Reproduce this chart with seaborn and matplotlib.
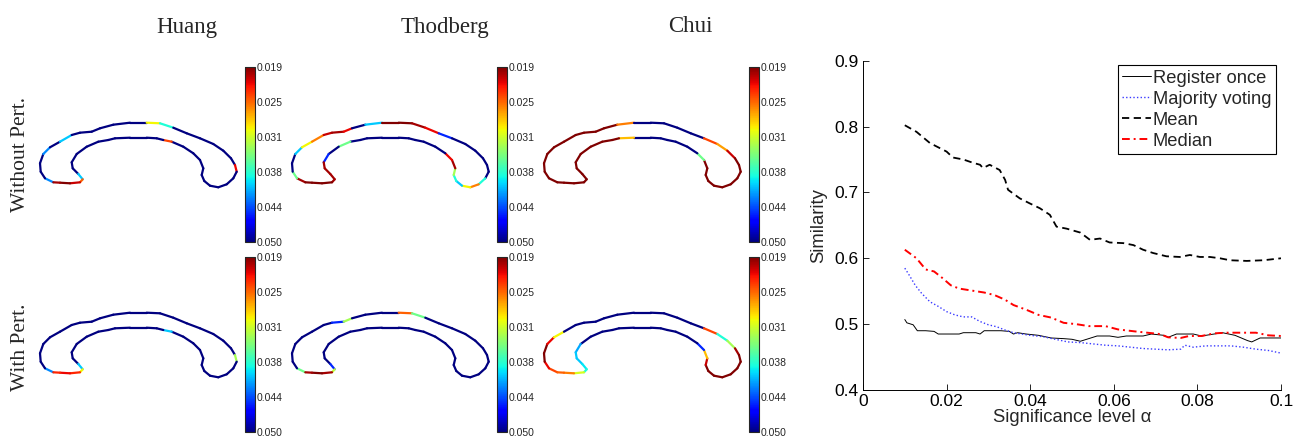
import numpy as np
import pandas as pd
import matplotlib
matplotlib.use("Agg")
import matplotlib.pyplot as plt
from matplotlib.collections import LineCollection
from matplotlib.colors import Normalize
from matplotlib.cm import ScalarMappable
import seaborn as sns

sns.set_style("ticks", {"xtick.direction": "in", "ytick.direction": "in"})
plt.rcParams["font.family"] = ["Liberation Sans", "DejaVu Sans"]

# ---- line chart data (similarity vs significance level) ----
reg_x = [0.010, 0.0105, 0.012, 0.013, 0.015, 0.017, 0.018, 0.020, 0.023, 0.024, 0.027, 0.028, 0.029, 0.031,
         0.033, 0.035, 0.036, 0.037, 0.039, 0.042, 0.045, 0.048, 0.050, 0.052, 0.054, 0.056, 0.059, 0.061,
         0.063, 0.067, 0.069, 0.072, 0.073, 0.075, 0.079, 0.081, 0.084, 0.086, 0.089, 0.092, 0.093, 0.095, 0.100]
reg_y = [0.507, 0.502, 0.499, 0.490, 0.490, 0.489, 0.485, 0.485, 0.485, 0.487, 0.487, 0.485, 0.490, 0.490,
         0.490, 0.489, 0.485, 0.487, 0.485, 0.483, 0.479, 0.478, 0.477, 0.474, 0.478, 0.482, 0.482, 0.480,
         0.482, 0.482, 0.485, 0.483, 0.480, 0.485, 0.485, 0.482, 0.485, 0.487, 0.483, 0.475, 0.473, 0.479, 0.479]

maj_x = [0.010, 0.011, 0.0125, 0.014, 0.016, 0.018, 0.020, 0.022, 0.024, 0.026, 0.028, 0.030, 0.032, 0.034,
         0.036, 0.038, 0.040, 0.043, 0.046, 0.049, 0.052, 0.055, 0.058, 0.061, 0.064, 0.067, 0.070, 0.073,
         0.076, 0.077, 0.079, 0.082, 0.085, 0.088, 0.091, 0.094, 0.097, 0.100]
maj_y = [0.585, 0.575, 0.559, 0.547, 0.534, 0.527, 0.519, 0.514, 0.511, 0.511, 0.504, 0.499, 0.496, 0.491,
         0.487, 0.485, 0.483, 0.481, 0.477, 0.473, 0.472, 0.470, 0.468, 0.467, 0.465, 0.463, 0.462, 0.461,
         0.462, 0.468, 0.465, 0.467, 0.467, 0.467, 0.465, 0.462, 0.460, 0.456]

mean_x = [0.010, 0.0128, 0.016, 0.020, 0.0215, 0.024, 0.0263, 0.0280, 0.0287, 0.0303, 0.0327, 0.034, 0.0347,
          0.0375, 0.040, 0.0423, 0.0447, 0.0463, 0.0487, 0.052, 0.0543, 0.0567, 0.059, 0.0623, 0.0647, 0.067,
          0.0694, 0.0726, 0.0758, 0.0782, 0.0806, 0.083, 0.0854, 0.0878, 0.0918, 0.0958, 0.100]
mean_y = [0.802, 0.792, 0.775, 0.762, 0.753, 0.750, 0.745, 0.742, 0.737, 0.742, 0.734, 0.719, 0.704,
          0.691, 0.683, 0.676, 0.666, 0.648, 0.645, 0.639, 0.628, 0.630, 0.624, 0.623, 0.620, 0.613,
          0.608, 0.603, 0.602, 0.605, 0.602, 0.602, 0.600, 0.597, 0.596, 0.597, 0.600]

med_x = [0.010, 0.0128, 0.015, 0.017, 0.019, 0.021, 0.023, 0.026, 0.029, 0.0315, 0.034, 0.036, 0.039, 0.042,
         0.045, 0.048, 0.051, 0.054, 0.058, 0.061, 0.065, 0.068, 0.071, 0.073, 0.076, 0.078, 0.081, 0.084,
         0.087, 0.090, 0.094, 0.097, 0.100]
med_y = [0.613, 0.600, 0.583, 0.580, 0.570, 0.559, 0.554, 0.551, 0.548, 0.544, 0.537, 0.529, 0.522, 0.514,
         0.510, 0.502, 0.500, 0.497, 0.497, 0.492, 0.489, 0.487, 0.485, 0.480, 0.479, 0.482, 0.482, 0.486,
         0.487, 0.487, 0.487, 0.483, 0.482]

# ---- shape panels: corpus callosum outline (pixel units) ----
outline_x = [13.3, 5.0, 0.7, 0.0, 3.3, 10.0, 20.0, 31.7, 40.0, 51.7, 60.0, 73.3, 90.0, 106.7, 120.0, 133.3,
             146.7, 160.0, 173.3, 183.3, 191.0, 195.0, 196.7, 193.3, 186.7, 178.3, 170.0, 164.3, 161.7, 163.3,
             160.0, 153.3, 143.3, 131.7, 123.3, 116.7, 106.7, 90.0, 75.0, 68.3, 58.3, 46.7, 36.7, 31.7, 32.7,
             38.3, 42.7, 40.0, 30.0, 20.0]
outline_y = [60.3, 56.3, 49.7, 41.3, 32.0, 25.3, 19.7, 13.0, 10.7, 9.7, 6.3, 2.7, 0.7, 0.7, 1.3, 5.7,
             11.3, 16.3, 22.0, 28.7, 36.3, 43.0, 49.7, 56.3, 62.3, 65.3, 63.7, 59.0, 53.0, 46.3,
             38.0, 31.3, 24.7, 19.7, 18.0, 16.3, 15.7, 15.7, 16.3, 18.0, 19.7, 24.7, 32.0, 40.3, 46.3,
             52.0, 57.3, 60.3, 61.3, 60.7]

# p-values per outline segment: base value plus overrides
huang_wo_base = 0.050
huang_wo_idx = [0, 4, 6, 13, 14, 21, 33, 45, 46, 47, 48, 49]
huang_wo_val = [0.042, 0.042, 0.040, 0.030, 0.038, 0.022, 0.024, 0.040, 0.025, 0.021, 0.019, 0.020]

thod_wo_base = 0.050
thod_wo_idx = [0, 1, 4, 5, 6, 7, 8, 9, 11, 12, 13, 14, 15, 16, 23, 24, 25, 26, 27, 28, 29, 30,
               40, 42, 43, 44, 45, 46, 47, 48, 49]
thod_wo_val = [0.020, 0.035, 0.040, 0.030, 0.026, 0.021, 0.020, 0.022, 0.040, 0.019, 0.019, 0.020, 0.022,
               0.045, 0.038, 0.026, 0.030, 0.040, 0.038, 0.033, 0.020, 0.022, 0.035, 0.045, 0.020, 0.020,
               0.020, 0.020, 0.019, 0.019, 0.019]

chui_wo_base = 0.019
chui_wo_idx = [11, 12, 13, 14, 15, 16, 17, 18, 19, 30, 31, 32, 33, 34, 35, 36, 37]
chui_wo_val = [0.026, 0.050, 0.050, 0.050, 0.050, 0.050, 0.024, 0.027, 0.021, 0.035, 0.050, 0.050, 0.050,
               0.050, 0.050, 0.050, 0.028]

huang_w_base = 0.050
huang_w_idx = [0, 21, 33, 45, 46, 47, 48, 49]
huang_w_val = [0.042, 0.033, 0.040, 0.040, 0.030, 0.023, 0.022, 0.023]

thod_w_base = 0.050
thod_w_idx = [0, 8, 9, 13, 14, 45, 46, 47, 48, 49]
thod_w_val = [0.035, 0.045, 0.033, 0.025, 0.035, 0.045, 0.032, 0.020, 0.019, 0.020]

chui_w_base = 0.050
chui_w_idx = [0, 1, 2, 3, 4, 5, 17, 18, 19, 20, 21, 22, 23, 24, 25, 26, 27, 28, 29, 30,
              42, 43, 44, 45, 46, 47, 48, 49]
chui_w_val = [0.024, 0.022, 0.019, 0.019, 0.022, 0.030, 0.024, 0.038, 0.033, 0.020, 0.019, 0.019, 0.019,
              0.019, 0.019, 0.019, 0.019, 0.021, 0.028, 0.045, 0.041, 0.040, 0.040, 0.039, 0.038, 0.031,
              0.026, 0.025]

methods = ["Huang", "Thodberg", "Chui"]
conditions = ["Without Pert.", "With Pert."]
cb_ticks = [0.019, 0.0252, 0.0314, 0.0376, 0.0438, 0.050]
cb_labels = ["0.019", "0.025", "0.031", "0.038", "0.044", "0.050"]

panels = [
    [(huang_wo_base, huang_wo_idx, huang_wo_val), (thod_wo_base, thod_wo_idx, thod_wo_val),
     (chui_wo_base, chui_wo_idx, chui_wo_val)],
    [(huang_w_base, huang_w_idx, huang_w_val), (thod_w_base, thod_w_idx, thod_w_val),
     (chui_w_base, chui_w_idx, chui_w_val)],
]

W, H = 1293, 437
fig = plt.figure(figsize=(W / 100, H / 100), dpi=100)


def box(left, top, width, height):
    return [left / W, 1 - (top + height) / H, width / W, height / H]


norm = Normalize(vmin=0.019, vmax=0.050)
cmap = plt.get_cmap("jet_r")
pts = np.column_stack([outline_x, outline_y])
segs = np.stack([pts, np.roll(pts, -1, axis=0)], axis=1)

col_left = [40, 292, 544]
cbar_left = [245, 497, 749]
row_top = [122, 312]
cbar_top = [67, 257]
pad = 4

for r in range(2):
    for c in range(3):
        base, idx, val = panels[r][c]
        pv = np.full(len(outline_x), base)
        pv[idx] = val
        ax = fig.add_axes(box(col_left[c] - pad, row_top[r] - pad, 196.7 + 2 * pad, 65.3 + 2 * pad))
        lc = LineCollection(segs, cmap=cmap, norm=norm, linewidths=1.6, capstyle="round")
        lc.set_array(pv)
        ax.add_collection(lc)
        ax.set_xlim(-pad, 196.7 + pad)
        ax.set_ylim(65.3 + pad, -pad)
        ax.axis("off")

        cax = fig.add_axes(box(cbar_left[c], cbar_top[r], 10, 175))
        cb = fig.colorbar(ScalarMappable(norm=norm, cmap=cmap), cax=cax, ticks=cb_ticks)
        cax.invert_yaxis()
        cb.ax.set_yticklabels(cb_labels)
        cb.outline.set_linewidth(0.8)
        cax.tick_params(direction="in", length=2, width=0.5, labelsize=7.5, pad=1,
                        left=True, right=True)

title_x = [187, 445, 690]
for c, name in enumerate(methods):
    fig.text(title_x[c] / W, 1 - 27 / H, name, ha="center", va="center",
             family="Liberation Serif", fontsize=16.5)

label_y = [154, 347]
for r, name in enumerate(conditions):
    fig.text(21 / W, 1 - label_y[r] / H, name, ha="center", va="center", rotation=90,
             family="Liberation Serif", fontsize=15.5)

# ---- similarity line chart ----
ax = fig.add_axes(box(863, 60.7, 418, 329.3))
sns.lineplot(x=reg_x, y=reg_y, ax=ax, color="black", linewidth=0.7, label="Register once")
sns.lineplot(x=maj_x, y=maj_y, ax=ax, color="#3a3aff", linewidth=1.0, linestyle=(0, (1, 1.6)),
             label="Majority voting")
sns.lineplot(x=mean_x, y=mean_y, ax=ax, color="black", linewidth=1.3, linestyle=(0, (4, 2.5)),
             label="Mean")
sns.lineplot(x=med_x, y=med_y, ax=ax, color="red", linewidth=1.4, linestyle=(0, (4, 2, 1, 2)),
             label="Median")

ax.set_xlim(0, 0.1)
ax.set_ylim(0.4, 0.9)
ax.set_xticks([0, 0.02, 0.04, 0.06, 0.08, 0.1])
ax.set_xticklabels(["0", "0.02", "0.04", "0.06", "0.08", "0.1"])
ax.set_yticks([0.4, 0.5, 0.6, 0.7, 0.8, 0.9])
ax.set_yticklabels(["0.4", "0.5", "0.6", "0.7", "0.8", "0.9"])
ax.tick_params(direction="in", length=4, width=0.6, labelsize=12.5, pad=3, colors="black")
for side in ["top", "right"]:
    ax.spines[side].set_visible(False)
for side in ["left", "bottom"]:
    ax.spines[side].set_linewidth(0.7)
    ax.spines[side].set_color("black")
ax.set_xlabel("Significance level \u03b1", fontsize=13.3, labelpad=0)
ax.set_ylabel("Similarity", fontsize=13.3, labelpad=5)

leg = ax.legend(loc="upper right", bbox_to_anchor=(0.988, 0.987), borderaxespad=0, fontsize=13.2,
                frameon=True, fancybox=False, handlelength=1.55, handletextpad=0.12,
                labelspacing=0.22, borderpad=0.25)
leg.get_frame().set_edgecolor("black")
leg.get_frame().set_linewidth(0.8)
leg.get_frame().set_alpha(1)

fig.savefig("out.png", dpi=100)
